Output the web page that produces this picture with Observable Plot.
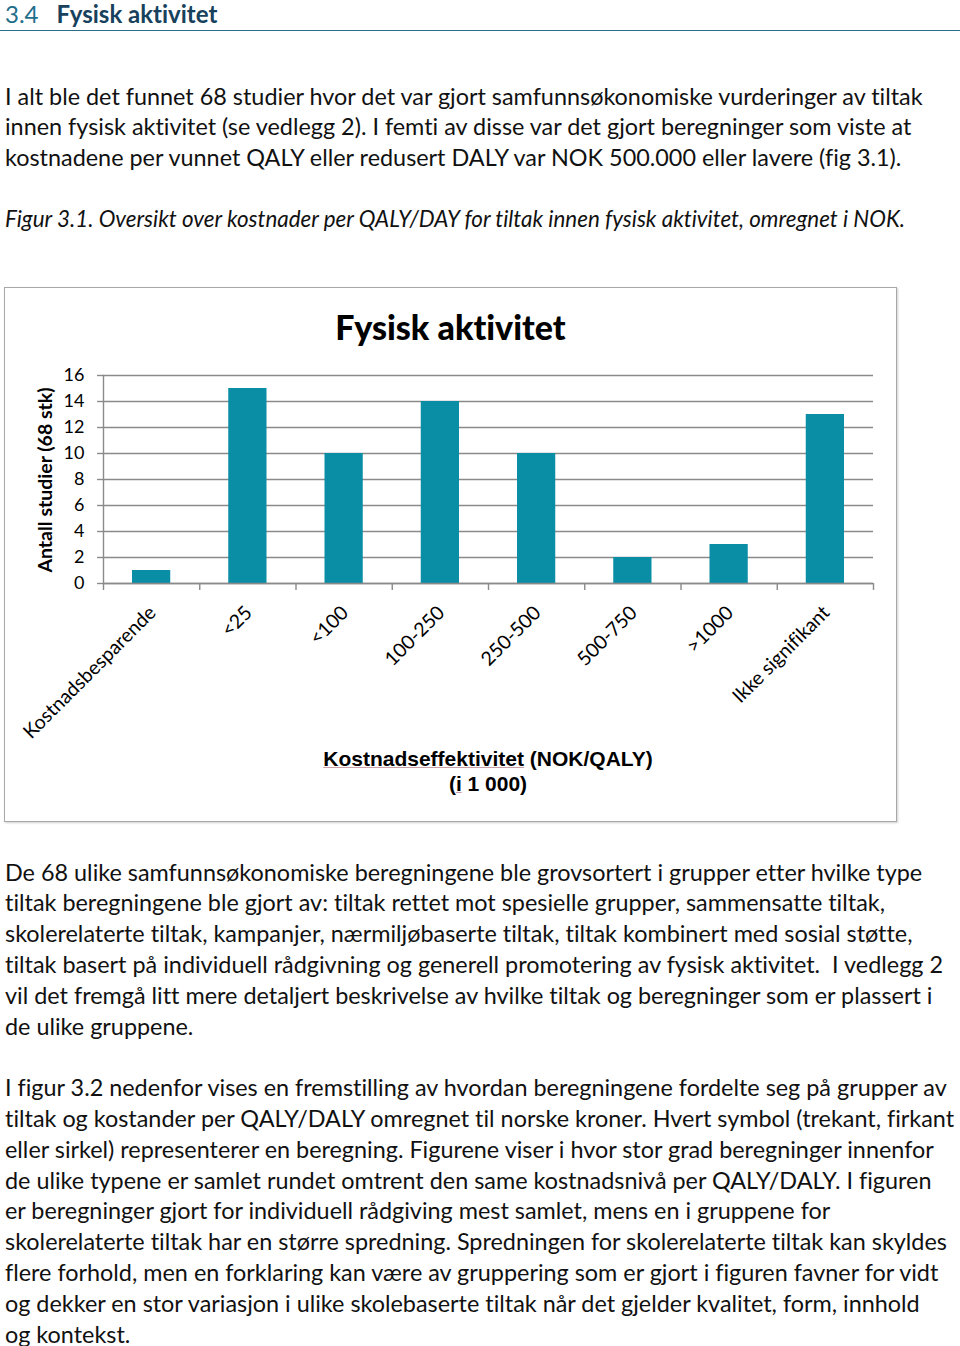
<!DOCTYPE html>
<html>
<head>
<meta charset="utf-8">
<script src="https://cdn.jsdelivr.net/npm/d3@7"></script>
<script src="https://cdn.jsdelivr.net/npm/@observablehq/plot@0.6"></script>
<style>
  html, body { margin: 0; padding: 0; background: #fff; }
  body { width: 960px; height: 1346px; position: relative; overflow: hidden; font-family: Lato, "Open Sans", sans-serif; color: #111; font-variant-ligatures: none; }
  .abs { position: absolute; }
  .heading { left: 5px; top: 0px; font-size: 24px; line-height: 28px; white-space: nowrap; }
  .heading .num { color: #1f6f8b; }
  .heading .ttl { color: #17415c; font-weight: 700; margin-left: 18px; }
  .hrule { left: 0; top: 30px; width: 960px; height: 0; border-top: 1.5px solid #2d6f88; }
  .block { left: 5px; font-size: 23.4px; line-height: 30.8px; white-space: nowrap; }
  .block div { height: 30.8px; }
  .cap { font-style: italic; font-size: 22.4px; }
  .box { left: 4px; top: 287px; width: 891px; height: 533px; border: 1.5px solid #a8a8a8; box-shadow: 1px 1px 2px #d0d0d0; }
  .ctitle { left: 4px; width: 893px; top: 306px; text-align: center; font-size: 34px; font-weight: 900; color: #000; }
  .ylab { left: 44px; top: 480px; transform: translate(-50%, -50%) rotate(-90deg); font-size: 19.5px; font-weight: 700; white-space: nowrap; color: #000; }
  .xlab { left: 288px; width: 400px; top: 747px; text-align: center; font-family: "Liberation Sans", Arial, sans-serif; font-weight: 700; font-size: 21px; line-height: 24.5px; color: #000; }
  .xlab u { text-decoration-color: #c9a0a8; text-decoration-thickness: 1px; }
  #chart { left: 0; top: 360px; }
</style>
</head>
<body>
<div class="abs heading"><span class="num">3.4</span><span class="ttl">Fysisk aktivitet</span></div>
<div class="abs hrule"></div>

<div class="abs block" style="top:80.6px">
  <div>I alt ble det funnet 68 studier hvor det var gjort samfunnsøkonomiske vurderinger av tiltak</div>
  <div>innen fysisk aktivitet (se vedlegg 2). I femti av disse var det gjort beregninger som viste at</div>
  <div>kostnadene per vunnet QALY eller redusert DALY var NOK 500.000 eller lavere (fig 3.1).</div>
  <div></div>
  <div class="cap">Figur 3.1. Oversikt over kostnader per QALY/DAY for tiltak innen fysisk aktivitet, omregnet i NOK.</div>
</div>

<div class="abs box"></div>
<div class="abs ctitle">Fysisk aktivitet</div>
<div class="abs ylab">Antall studier (68 stk)</div>
<div class="abs" id="chart"></div>
<div class="abs xlab"><u>Kostnadseffektivitet</u> (NOK/QALY)<br>(<u>i</u> 1 000)</div>

<div class="abs block" style="top:856.6px">
  <div>De 68 ulike samfunnsøkonomiske beregningene ble grovsortert i grupper etter hvilke type</div>
  <div>tiltak beregningene ble gjort av: tiltak rettet mot spesielle grupper, sammensatte tiltak,</div>
  <div>skolerelaterte tiltak, kampanjer, nærmiljøbaserte tiltak, tiltak kombinert med sosial støtte,</div>
  <div>tiltak basert på individuell rådgivning og generell promotering av fysisk aktivitet.&nbsp; I vedlegg 2</div>
  <div>vil det fremgå litt mere detaljert beskrivelse av hvilke tiltak og beregninger som er plassert i</div>
  <div>de ulike gruppene.</div>
  <div></div>
  <div>I figur 3.2 nedenfor vises en fremstilling av hvordan beregningene fordelte seg på grupper av</div>
  <div>tiltak og kostander per QALY/DALY omregnet til norske kroner. Hvert symbol (trekant, firkant</div>
  <div>eller sirkel) representerer en beregning. Figurene viser i hvor stor grad beregninger innenfor</div>
  <div>de ulike typene er samlet rundet omtrent den same kostnadsnivå per QALY/DALY. I figuren</div>
  <div>er beregninger gjort for individuell rådgiving mest samlet, mens en i gruppene for</div>
  <div>skolerelaterte tiltak har en større spredning. Spredningen for skolerelaterte tiltak kan skyldes</div>
  <div>flere forhold, men en forklaring kan være av gruppering som er gjort i figuren favner for vidt</div>
  <div>og dekker en stor variasjon i ulike skolebaserte tiltak når det gjelder kvalitet, form, innhold</div>
  <div>og kontekst.</div>
</div>

<script>
const categories = ["Kostnadsbesparende", "<25", "<100", "100-250", "250-500", "500-750", ">1000", "Ikke signifikant"];
const counts = [1, 15, 10, 14, 10, 2, 3, 13];
const yTicks = [0, 2, 4, 6, 8, 10, 12, 14, 16];
const xBoundaries = [0, 1, 2, 3, 4, 5, 6, 7, 8];

const data = categories.map((cat, i) => ({cat, i, n: counts[i]}));

const gridColor = "#8a8a8a";
const chart = Plot.plot({
  width: 900,
  height: 393,
  marginLeft: 103,
  marginRight: 27,
  marginTop: 15,
  marginBottom: 170,
  style: {fontFamily: "Lato, 'Open Sans', sans-serif", fontSize: "18px", color: "#000", background: "transparent", overflow: "visible", fontVariantLigatures: "none"},
  x: {domain: [0, categories.length]},
  y: {domain: [0, 16]},
  marks: [
    Plot.gridY(yTicks, {stroke: gridColor, strokeOpacity: 1, strokeWidth: 1.4}),
    Plot.rectY(data, {x1: "i", x2: d => d.i + 1, y: "n", insetLeft: 29, insetRight: 29, fill: "#0a8ea6"}),
    Plot.frame({anchor: "left", stroke: gridColor, strokeWidth: 1.4}),
    Plot.ruleY([0], {stroke: gridColor, strokeWidth: 1.4}),
    Plot.axisY({ticks: yTicks, tickSize: 6, tickPadding: 13, fontSize: 18, label: null, stroke: gridColor, strokeWidth: 1.4}),
    Plot.axisX({ticks: xBoundaries, tickSize: 7, tickFormat: () => "", label: null, stroke: gridColor, strokeWidth: 1.4}),
    Plot.text(data, {x: d => d.i + 0.5, text: "cat", frameAnchor: "bottom", dy: 26, dx: 1, rotate: -45, textAnchor: "end", lineAnchor: "middle", fontSize: 19.5, fill: "#000"})
  ]
});
document.getElementById("chart").appendChild(chart);
</script>
</body>
</html>
